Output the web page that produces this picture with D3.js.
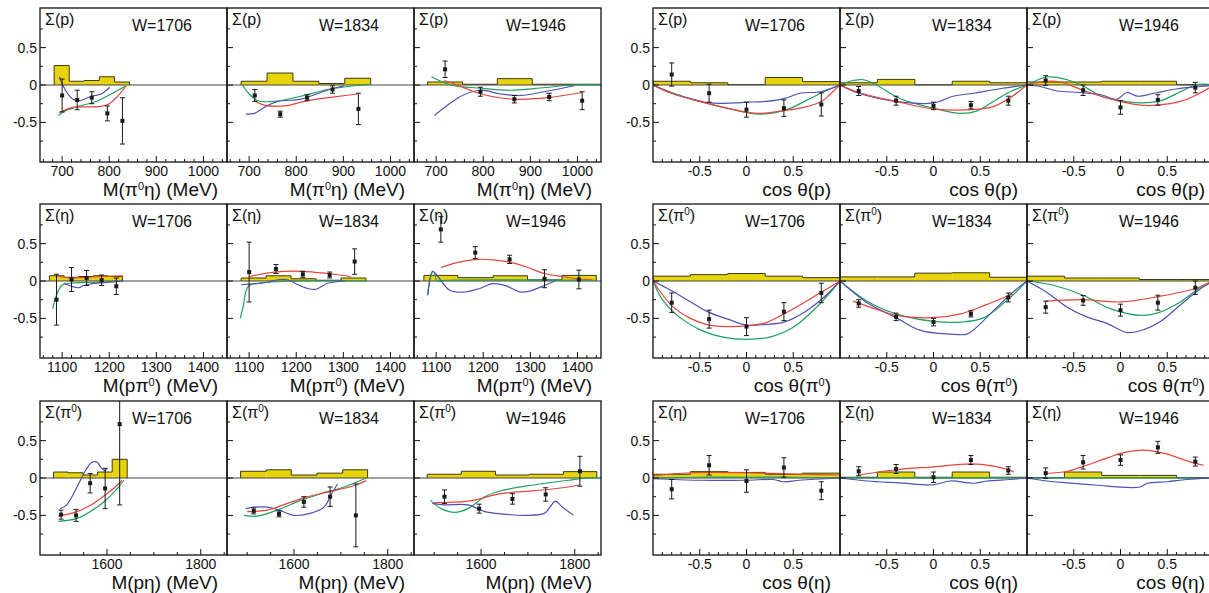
<!DOCTYPE html>
<html>
<head>
<meta charset="utf-8">
<script src="https://cdn.jsdelivr.net/npm/d3@7"></script>
<style>
  body { margin: 0; background: #fff; }
  svg { display: block; }
  text { font-family: "Liberation Sans", Arial, Helvetica, sans-serif; fill: #111; }
</style>
</head>
<body>
<svg id="chart" width="1209" height="593"></svg>
<script>
// ---------- labels ----------
const energyLabels = ["W=1706", "W=1834", "W=1946"];
const yTickValues = [-0.5, 0, 0.5];
const yTickLabels = ["-0.5", "0", "0.5"];
const cosTickValues = [-0.5, 0, 0.5];
const cosTickLabels = ["-0.5", "0", "0.5"];

// ---------- Σ(p) vs M(π0η) ----------
const ticksMpe = [700, 800, 900, 1000];
const binsSigPMpe = [[683,715,747,779,811,843],[683,738,793,848,903,958],[682,756,830,904,978,1052]];
const sysSigPMpe = [[0.26,0.05,0.06,0.11,0.04],[0.05,0.16,0.05,0.02,0.09],[0.04,0.01,0.085,0.01,0.01]];
const dataSigPMpe = [
  [[700,-0.14,0.22],[732,-0.2,0.13],[763,-0.17,0.08],[796,-0.38,0.1],[828,-0.48,0.31]],
  [[712,-0.14,0.08],[766,-0.39,0.04],[823,-0.17,0.04],[877,-0.06,0.05],[932,-0.32,0.21]],
  [[719,0.21,0.11],[794,-0.09,0.06],[866,-0.19,0.05],[940,-0.16,0.05],[1010,-0.21,0.12]]];
const redSigPMpe = [
  [[694,-0.37],[723,-0.30],[776,-0.29],[797,-0.26],[815,-0.17],[836,-0.01]],
  [[711,-0.21],[732,-0.27],[775,-0.28],[824,-0.21],[881,-0.16],[930,-0.12]],
  [[717,0.06],[745,0.0],[780,-0.09],[816,-0.15],[866,-0.19],[936,-0.17],[1010,-0.10]]];
const greenSigPMpe = [
  [[692,-0.41],[705,-0.35],[733,-0.29],[776,-0.21],[804,-0.12],[836,-0.01]],
  [[686,0],[700,-0.12],[718,-0.21],[753,-0.22],[810,-0.15],[867,-0.06],[923,-0.01],[959,0.01]],
  [[690,0.11],[710,0.05],[738,-0.01],[788,-0.04],[859,-0.07],[922,-0.04],[993,0],[1050,0]]];
const blueSigPMpe = [
  [[694,0.11],[708,-0.08],[723,-0.19],[737,-0.21],[762,-0.15],[783,-0.12],[801,-0.03]],
  [[693,-0.39],[711,-0.38],[732,-0.30],[761,-0.22],[810,-0.19],[852,-0.10],[881,-0.04],[902,-0.01]],
  [[696,-0.41],[724,-0.27],[759,-0.13],[794,-0.07],[837,-0.12],[880,-0.14],[929,-0.09],[993,-0.01]]];

// ---------- Σ(η) vs M(pπ0) ----------
const ticksMppi = [1100, 1200, 1300, 1400];
const binsSigEtaMppi = [[1073,1104,1135,1166,1197,1228],[1083,1136,1189,1242,1295,1348],[1074,1146,1221,1294,1367,1440]];
const sysSigEtaMppi = [[0.07,0.05,0.06,0.07,0.06],[0.04,0.07,0.03,0.01,0.04],[0.075,0.045,0.07,0.015,0.075]];
const dataSigEtaMppi = [
  [[1088,-0.25,0.34],[1120,0.02,0.16],[1152,0.04,0.1],[1184,0.01,0.07],[1215,-0.07,0.11]],
  [[1100,0.12,0.4],[1157,0.16,0.06],[1214,0.09,0.04],[1271,0.08,0.04],[1324,0.26,0.17]],
  [[1110,0.69,0.17],[1183,0.38,0.08],[1256,0.29,0.055],[1330,0.03,0.12],[1403,0.02,0.125]]];
const redSigEtaMppi = [
  [[1086,0.07],[1117,0.04],[1152,0.05],[1190,0.06],[1230,0.07]],
  [[1100,0.06],[1154,0.12],[1211,0.13],[1267,0.10],[1316,0.06]],
  [[1110,0.18],[1146,0.25],[1189,0.29],[1224,0.28],[1259,0.25],[1295,0.18],[1330,0.1],[1366,0.06],[1401,0.03],[1430,0.02]]];
const greenSigEtaMppi = [
  [[1080,-0.37],[1088,-0.19],[1099,-0.06],[1117,-0.03],[1152,-0.02],[1230,0.0]],
  [[1081,-0.50],[1088,-0.32],[1093,-0.14],[1100,-0.06],[1136,-0.02],[1200,0.0],[1350,0.0]],
  [[1082,-0.19],[1085,-0.06],[1089,0.07],[1093,0.13],[1097,0.1],[1102,0.0],[1120,0.01],[1440,0.01]]];
const blueSigEtaMppi = [
  [[1103,-0.03],[1120,-0.07],[1135,-0.09],[1146,-0.06],[1160,-0.04],[1195,-0.02],[1230,0]],
  [[1083,-0.05],[1136,-0.02],[1165,0.02],[1185,0.01],[1200,-0.04],[1224,-0.10],[1242,-0.11],[1267,-0.03],[1303,0.0]],
  [[1082,-0.19],[1093,0.13],[1105,0.05],[1128,-0.12],[1156,-0.15],[1192,-0.1],[1220,-0.035],[1249,-0.066],[1277,-0.145],[1298,-0.135],[1330,-0.06],[1352,0.0]]];

// ---------- Σ(π0) vs M(pη) ----------
const ticksMpeta = [1600, 1800];
const binsSigPiMpeta = [[1486,1517,1549,1580,1611,1643],[1486,1541,1594,1649,1704,1757],[1485,1558,1631,1703,1776,1847]];
const sysSigPiMpeta = [[0.08,0.07,0.04,0.08,0.25],[0.09,0.11,0.04,0.065,0.11],[0.05,0.09,0.04,0.05,0.085]];
const dataSigPiMpeta = [
  [[1502,-0.49,0.06],[1534,-0.5,0.08],[1564,-0.07,0.13],[1596,-0.14,0.27],[1627,0.72,1.08]],
  [[1514,-0.44,0.04],[1568,-0.48,0.04],[1621,-0.32,0.07],[1677,-0.25,0.13],[1732,-0.5,0.42]],
  [[1522,-0.25,0.09],[1596,-0.41,0.06],[1667,-0.28,0.07],[1738,-0.22,0.09],[1811,0.09,0.2]]];
const redSigPiMpeta = [
  [[1496,-0.51],[1536,-0.45],[1571,-0.34],[1600,-0.21],[1621,-0.10],[1632,-0.03]],
  [[1500,-0.45],[1543,-0.43],[1586,-0.34],[1629,-0.25],[1671,-0.19],[1729,-0.1],[1754,-0.035]],
  [[1500,-0.33],[1572,-0.31],[1643,-0.21],[1715,-0.17],[1786,-0.12],[1811,-0.09]]];
const greenSigPiMpeta = [
  [[1496,-0.58],[1536,-0.54],[1564,-0.45],[1593,-0.32],[1618,-0.17],[1636,-0.03]],
  [[1493,-0.5],[1521,-0.51],[1564,-0.43],[1614,-0.30],[1657,-0.21],[1707,-0.12],[1754,0]],
  [[1492,-0.30],[1515,-0.41],[1544,-0.46],[1572,-0.41],[1608,-0.25],[1643,-0.17],[1715,-0.09],[1786,-0.03],[1829,0],[1856,0]]];
const blueSigPiMpeta = [
  [[1500,-0.41],[1514,-0.36],[1536,-0.12],[1554,0.1],[1568,0.21],[1579,0.21],[1586,0.15],[1594,0.1],[1600,0.12]],
  [[1497,-0.41],[1514,-0.39],[1543,-0.39],[1568,-0.43],[1600,-0.5],[1636,-0.47],[1664,-0.39],[1682,-0.19],[1693,-0.08]],
  [[1496,-0.34],[1522,-0.36],[1572,-0.36],[1608,-0.45],[1643,-0.48],[1700,-0.5],[1736,-0.47],[1747,-0.39],[1759,-0.31],[1772,-0.38],[1797,-0.5]]];

// ---------- angular bins (shared by the cos θ panels) ----------
const binsCos = [-1, -0.6, -0.2, 0.2, 0.6, 1];

// ---------- Σ(p) vs cos θ(p) ----------
const sysSigPCos = [[0.05,0.03,0.005,0.1,0.045],[0.03,0.075,0.003,0.05,0.03],[0.04,0.04,0.05,0.05,0.005]];
const dataSigPCos = [
  [[-0.8,0.14,0.155],[-0.4,-0.11,0.12],[0,-0.33,0.1],[0.4,-0.31,0.11],[0.8,-0.26,0.155]],
  [[-0.8,-0.08,0.06],[-0.4,-0.21,0.06],[0,-0.28,0.05],[0.4,-0.27,0.05],[0.8,-0.21,0.06]],
  [[-0.8,0.06,0.065],[-0.4,-0.07,0.07],[0,-0.3,0.09],[0.4,-0.2,0.07],[0.8,-0.035,0.07]]];
const redSigPCos = [
  [[-1,0],[-0.8,-0.11],[-0.5,-0.22],[-0.14,-0.33],[0.11,-0.38],[0.36,-0.35],[0.61,-0.3],[0.8,-0.22],[0.89,-0.13],[1,0]],
  [[-1,0],[-0.8,-0.1],[-0.4,-0.22],[0,-0.32],[0.4,-0.33],[0.64,-0.29],[0.82,-0.17],[1,0]],
  [[-1,0],[-0.8,0.05],[-0.64,0.04],[-0.4,-0.07],[-0.21,-0.15],[0,-0.22],[0.21,-0.27],[0.4,-0.27],[0.64,-0.22],[0.8,-0.14],[1,0]]];
const greenSigPCos = [
  [[-1,0],[-0.8,-0.1],[-0.5,-0.22],[-0.14,-0.33],[0.14,-0.39],[0.43,-0.33],[0.68,-0.18],[0.86,-0.07],[1,0]],
  [[-1,0],[-0.86,0.06],[-0.75,0.07],[-0.61,0],[-0.36,-0.18],[0,-0.31],[0.29,-0.38],[0.46,-0.35],[0.64,-0.22],[0.82,-0.09],[1,0]],
  [[-1,0],[-0.82,0.1],[-0.75,0.11],[-0.57,0.07],[-0.39,-0.02],[-0.21,-0.15],[0,-0.21],[0.21,-0.24],[0.43,-0.21],[0.64,-0.09],[0.8,0],[0.93,0.01],[1,0]]];
const blueSigPCos = [
  [[-1,0],[-0.8,-0.11],[-0.61,-0.18],[-0.39,-0.24],[-0.14,-0.24],[0,-0.23],[0.21,-0.22],[0.41,-0.18],[0.57,-0.11],[0.79,-0.09],[1,0]],
  [[-1,0],[-0.8,-0.11],[-0.4,-0.22],[0,-0.24],[0.21,-0.15],[0.43,-0.11],[0.71,-0.05],[1,0]],
  [[-1,0],[-0.86,-0.02],[-0.68,-0.08],[-0.43,-0.1],[-0.21,-0.13],[-0.04,-0.19],[0.07,-0.1],[0.18,-0.15],[0.36,-0.11],[0.61,-0.05],[0.86,-0.02],[1,0]]];

// ---------- Σ(π0) vs cos θ(π0) ----------
const sysSigPiCos = [[0.065,0.085,0.1,0.065,0.045],[0.055,0.055,0.105,0.11,0.05],[0.065,0.04,0.04,0.02,0.02]];
const dataSigPiCos = [
  [[-0.8,-0.29,0.13],[-0.4,-0.51,0.12],[0,-0.61,0.12],[0.4,-0.41,0.12],[0.8,-0.16,0.13]],
  [[-0.8,-0.3,0.05],[-0.4,-0.48,0.05],[0,-0.55,0.05],[0.4,-0.44,0.04],[0.8,-0.22,0.06]],
  [[-0.8,-0.35,0.08],[-0.4,-0.26,0.065],[0,-0.39,0.08],[0.4,-0.29,0.1],[0.8,-0.09,0.09]]];
const redSigPiCos = [
  [[-1,0],[-0.8,-0.33],[-0.6,-0.5],[-0.4,-0.59],[-0.2,-0.61],[0,-0.6],[0.2,-0.56],[0.4,-0.44],[0.6,-0.3],[0.8,-0.15],[1,0]],
  [[-0.86,-0.27],[-0.61,-0.38],[-0.4,-0.46],[0,-0.49],[0.29,-0.44],[0.54,-0.33],[0.85,-0.17]],
  [[-0.8,-0.27],[-0.4,-0.25],[0,-0.28],[0.4,-0.21],[0.8,-0.1],[0.95,-0.02]]];
const greenSigPiCos = [
  [[-1,0],[-0.9,-0.25],[-0.75,-0.45],[-0.5,-0.65],[-0.25,-0.75],[0,-0.78],[0.25,-0.75],[0.5,-0.62],[0.75,-0.35],[1,0]],
  [[-1,0],[-0.71,-0.27],[-0.4,-0.44],[0,-0.54],[0.29,-0.55],[0.54,-0.49],[0.82,-0.22],[1,0]],
  [[-1,0],[-0.71,-0.06],[-0.4,-0.19],[-0.11,-0.37],[0.21,-0.46],[0.39,-0.43],[0.64,-0.28],[0.86,-0.08],[1,0]]];
const blueSigPiCos = [
  [[-1,0],[-0.8,-0.13],[-0.61,-0.27],[-0.4,-0.42],[-0.2,-0.51],[0,-0.59],[0.21,-0.58],[0.4,-0.55],[0.64,-0.4],[0.86,-0.18],[1,0]],
  [[-1,0],[-0.71,-0.29],[-0.4,-0.49],[-0.14,-0.66],[0.18,-0.71],[0.36,-0.71],[0.46,-0.62],[0.64,-0.4],[0.82,-0.18],[1,0]],
  [[-1,0],[-0.79,-0.15],[-0.57,-0.35],[-0.36,-0.48],[-0.14,-0.57],[0.07,-0.69],[0.25,-0.65],[0.43,-0.54],[0.64,-0.32],[0.86,-0.1],[1,0]]];

// ---------- Σ(η) vs cos θ(η) ----------
const sysSigEtaCos = [[0.05,0.085,0.075,0.05,0.065],[0.01,0.08,0.01,0.08,0.01],[0.005,0.08,0.035,0.035,0.005]];
const dataSigEtaCos = [
  [[-0.8,-0.15,0.13],[-0.4,0.17,0.13],[0,-0.04,0.15],[0.4,0.14,0.13],[0.8,-0.17,0.12]],
  [[-0.8,0.09,0.06],[-0.4,0.12,0.06],[0,0.01,0.07],[0.4,0.24,0.06],[0.8,0.1,0.05]],
  [[-0.8,0.065,0.07],[-0.4,0.21,0.09],[0,0.24,0.07],[0.4,0.41,0.08],[0.8,0.22,0.06]]];
const redSigEtaCos = [
  [[-1,0.03],[-0.6,0.07],[0,0.07],[0.6,0.05],[1,0.04]],
  [[-0.8,0.04],[-0.4,0.11],[0,0.15],[0.4,0.19],[0.64,0.16],[0.8,0.11],[0.86,0.08]],
  [[-0.8,0.06],[-0.57,0.09],[-0.36,0.17],[-0.14,0.27],[0.07,0.35],[0.29,0.37],[0.5,0.32],[0.71,0.23],[0.89,0.17]]];
const greenSigEtaCos = [
  [[-1,0],[-0.5,0.01],[0,0.01],[0.5,0.01],[1,0]],
  [[-1,0],[0,0.003],[1,0]],
  [[-1,0],[0,0.003],[1,0]]];
const blueSigEtaCos = [
  [[-1,-0.01],[-0.5,-0.03],[0,-0.03],[0.29,-0.02],[0.39,-0.05],[0.57,-0.03],[1,0]],
  [[-1,0],[-0.71,-0.04],[-0.36,-0.065],[0,-0.09],[0.18,-0.04],[0.43,-0.07],[0.57,-0.04],[0.82,-0.02],[1,0]],
  [[-1,0],[-0.79,-0.04],[-0.57,-0.065],[-0.21,-0.1],[-0.04,-0.12],[0.21,-0.12],[0.29,-0.07],[0.5,-0.05],[0.71,-0.02],[1,0]]];

// ---------- layout ----------
const blockX = [40, 653];
const panelW = 187;
const rowY = [8, 204, 401];
const panelH = 154;
const yDomain = [-1.03, 1.03];

const colors = { sys: "#e8d40a", sysLine: "#3a3a18", red: "#e5453b", green: "#1f9f62", blue: "#4f52b3", data: "#1a1a1a" };

const rows = [
  { block: 0, row: 0, xDomain: [653, 1050], major: ticksMpe, minor: 20, sigma: "Σ(p)", title: "M(π^0η) (MeV)",
    bins: binsSigPMpe, sys: sysSigPMpe, data: dataSigPMpe, red: redSigPMpe, green: greenSigPMpe, blue: blueSigPMpe },
  { block: 0, row: 1, xDomain: [1053, 1450], major: ticksMppi, minor: 20, sigma: "Σ(η)", title: "M(pπ^0) (MeV)",
    bins: binsSigEtaMppi, sys: sysSigEtaMppi, data: dataSigEtaMppi, red: redSigEtaMppi, green: greenSigEtaMppi, blue: blueSigEtaMppi },
  { block: 0, row: 2, xDomain: [1457, 1856], major: ticksMpeta, minor: 50, sigma: "Σ(π^0)", title: "M(pη) (MeV)",
    bins: binsSigPiMpeta, sys: sysSigPiMpeta, data: dataSigPiMpeta, red: redSigPiMpeta, green: greenSigPiMpeta, blue: blueSigPiMpeta },
  { block: 1, row: 0, xDomain: [-1, 1], major: cosTickValues, minor: 0.1, sigma: "Σ(p)", title: "cos θ(p)",
    bins: [binsCos, binsCos, binsCos], sys: sysSigPCos, data: dataSigPCos, red: redSigPCos, green: greenSigPCos, blue: blueSigPCos },
  { block: 1, row: 1, xDomain: [-1, 1], major: cosTickValues, minor: 0.1, sigma: "Σ(π^0)", title: "cos θ(π^0)",
    bins: [binsCos, binsCos, binsCos], sys: sysSigPiCos, data: dataSigPiCos, red: redSigPiCos, green: greenSigPiCos, blue: blueSigPiCos },
  { block: 1, row: 2, xDomain: [-1, 1], major: cosTickValues, minor: 0.1, sigma: "Σ(η)", title: "cos θ(η)",
    bins: [binsCos, binsCos, binsCos], sys: sysSigEtaCos, data: dataSigEtaCos, red: redSigEtaCos, green: greenSigEtaCos, blue: blueSigEtaCos }
];

const svg = d3.select("#chart");
svg.append("rect").attr("width", 1209).attr("height", 593).attr("fill", "#fff");

// text with single-character superscripts marked as ^x
function richText(sel, str, supSize, lift) {
  const parts = str.split(/\^(.)/);
  let raised = false;
  parts.forEach((p, i) => {
    if (!p) return;
    const t = sel.append("tspan").text(p);
    if (i % 2 === 1) { t.attr("dy", -lift).attr("font-size", supSize); raised = true; }
    else if (raised) { t.attr("dy", lift); raised = false; }
  });
}

const fmtTick = (v, isCos) => isCos ? cosTickLabels[cosTickValues.indexOf(v)] : String(v);

rows.forEach((cfg, ri) => {
  const top = rowY[cfg.row];
  const y = d3.scaleLinear().domain(yDomain).range([top + panelH, top]);
  const isCos = cfg.block === 1;

  for (let p = 0; p < 3; p++) {
    const left = blockX[cfg.block] + p * panelW;
    const x = d3.scaleLinear().domain(cfg.xDomain).range([left, left + panelW]);
    const g = svg.append("g");
    const clipId = `clip-${ri}-${p}`;
    svg.append("clipPath").attr("id", clipId).append("rect")
      .attr("x", left).attr("y", top).attr("width", panelW).attr("height", panelH);
    const inner = g.append("g").attr("clip-path", `url(#${clipId})`);

    // systematic-uncertainty histogram
    const edges = cfg.bins[p], vals = cfg.sys[p];
    inner.selectAll("rect.sys").data(vals).join("rect")
      .attr("x", (d, i) => x(edges[i]))
      .attr("width", (d, i) => x(edges[i + 1]) - x(edges[i]))
      .attr("y", d => y(d)).attr("height", d => y(0) - y(d))
      .attr("fill", colors.sys);
    const step = [[edges[0], 0]];
    vals.forEach((v, i) => { step.push([edges[i], v]); step.push([edges[i + 1], v]); });
    step.push([edges[edges.length - 1], 0]);
    inner.append("path")
      .attr("d", d3.line().x(d => x(d[0])).y(d => y(d[1]))(step))
      .attr("fill", "none").attr("stroke", colors.sysLine).attr("stroke-width", 1);

    // zero line
    inner.append("line").attr("x1", left).attr("x2", left + panelW)
      .attr("y1", y(0)).attr("y2", y(0)).attr("stroke", "#444").attr("stroke-width", 1);

    // model curves
    const curve = d3.line().x(d => x(d[0])).y(d => y(d[1])).curve(d3.curveCatmullRom.alpha(0.5));
    [["green", cfg.green], ["blue", cfg.blue], ["red", cfg.red]].forEach(([c, arr]) => {
      inner.append("path").attr("d", curve(arr[p]))
        .attr("fill", "none").attr("stroke", colors[c]).attr("stroke-width", 1.2);
    });

    // data points with error bars
    const pts = inner.selectAll("g.pt").data(cfg.data[p]).join("g");
    pts.append("line")
      .attr("x1", d => x(d[0])).attr("x2", d => x(d[0]))
      .attr("y1", d => y(d[1] + d[2])).attr("y2", d => y(d[1] - d[2]))
      .attr("stroke", colors.data).attr("stroke-width", 1);
    [1, -1].forEach(s => {
      pts.append("line")
        .attr("x1", d => x(d[0]) - 2.5).attr("x2", d => x(d[0]) + 2.5)
        .attr("y1", d => y(d[1] + s * d[2])).attr("y2", d => y(d[1] + s * d[2]))
        .attr("stroke", colors.data).attr("stroke-width", 1);
    });
    pts.append("rect")
      .attr("x", d => x(d[0]) - 2).attr("y", d => y(d[1]) - 2)
      .attr("width", 4).attr("height", 4).attr("fill", colors.data);

    // ticks (drawn inward, on left and bottom)
    const bottom = top + panelH;
    d3.range(-0.75, 0.76, 0.25).forEach(v => {
      const major = Math.abs(v * 2 - Math.round(v * 2)) < 1e-6;
      g.append("line").attr("x1", left).attr("x2", left + (major ? 6 : 3))
        .attr("y1", y(v)).attr("y2", y(v)).attr("stroke", "#111").attr("stroke-width", 1);
    });
    const [x0, x1] = cfg.xDomain;
    const minorTicks = d3.range(Math.ceil(x0 / cfg.minor) * cfg.minor, x1 + 1e-9, cfg.minor);
    minorTicks.forEach(v => {
      const vv = Math.round(v / cfg.minor) * cfg.minor;
      if (vv <= x0 || vv >= x1) return;
      const major = cfg.major.some(m => Math.abs(m - vv) < 1e-6);
      g.append("line").attr("x1", x(vv)).attr("x2", x(vv))
        .attr("y1", bottom).attr("y2", bottom - (major ? 6 : 3))
        .attr("stroke", "#111").attr("stroke-width", 1);
    });

    // frame
    g.append("rect").attr("x", left).attr("y", top).attr("width", panelW).attr("height", panelH)
      .attr("fill", "none").attr("stroke", "#111").attr("stroke-width", 1.3);

    // x tick labels
    cfg.major.forEach(v => {
      g.append("text").attr("x", x(v)).attr("y", bottom + 14)
        .attr("text-anchor", "middle").attr("font-size", 14)
        .text(fmtTick(v, isCos));
    });

    // panel labels
    const sig = g.append("text").attr("x", left + 5).attr("y", top + 17).attr("font-size", 16);
    richText(sig, cfg.sigma, 10, 6);
    g.append("text").attr("x", left + 122).attr("y", top + 23)
      .attr("text-anchor", "middle").attr("font-size", 16).text(energyLabels[p]);

    // axis title
    const t = g.append("text").attr("x", left + panelW - 9).attr("y", bottom + 34)
      .attr("text-anchor", "end").attr("font-size", 19);
    richText(t, cfg.title, 11, 6);

    // y tick labels on the first panel of each row
    if (p === 0) {
      yTickValues.forEach((v, i) => {
        g.append("text").attr("x", left - 3).attr("y", y(v)).attr("dy", "0.35em")
          .attr("text-anchor", "end").attr("font-size", 14).text(yTickLabels[i]);
      });
    }
  }
});
</script>
</body>
</html>
